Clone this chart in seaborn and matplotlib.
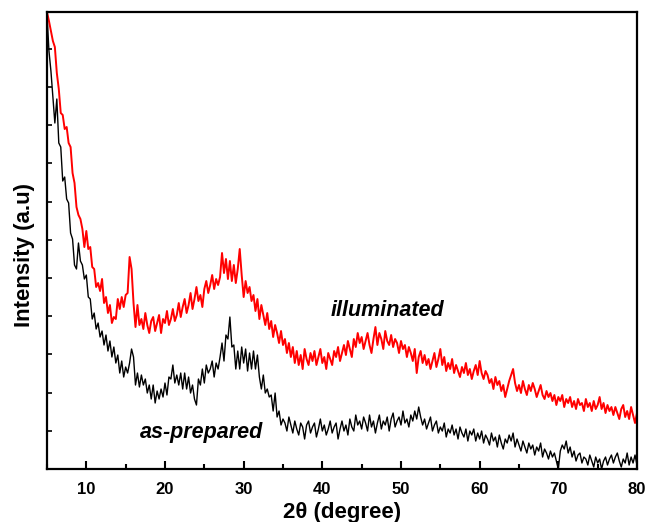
import numpy as np
import pandas as pd
import seaborn as sns
import matplotlib
matplotlib.use("Agg")
import matplotlib.pyplot as plt
from matplotlib.ticker import MultipleLocator

# 2theta sampling grid (degrees), 0.25 step
two_theta = np.arange(5.0, 80.001, 0.25)

# as-prepared (black), intensity in arbitrary units; one row = 2 degrees
as_prepared = [
    455, 418, 398, 372, 346, 370, 326, 322,
    288, 292, 270, 266, 236, 230, 204, 200,
    226, 208, 204, 190, 194, 172, 170, 150,
    156, 140, 146, 132, 138, 124, 134, 118,
    128, 112, 122, 106, 114, 96, 108, 92,
    102, 96, 106, 120, 112, 84, 96, 82,
    94, 84, 90, 76, 84, 70, 84, 66,
    78, 70, 80, 72, 86, 74, 92, 90,
    104, 86, 94, 84, 96, 80, 96, 80,
    92, 76, 84, 70, 64, 90, 84, 100,
    86, 104, 96, 100, 108, 92, 106, 100,
    112, 126, 108, 134, 130, 152, 122, 124,
    100, 118, 100, 122, 106, 120, 98, 116,
    100, 118, 100, 114, 92, 80, 94, 76,
    80, 72, 74, 58, 76, 52, 58, 44,
    50, 46, 38, 52, 44, 36, 48, 40,
    34, 46, 42, 30, 44, 48, 36, 42,
    46, 32, 40, 50, 38, 44, 34, 40,
    48, 36, 42, 46, 30, 40, 48, 38,
    44, 34, 50, 42, 38, 54, 44, 48,
    40, 52, 46, 38, 54, 42, 48, 36,
    46, 54, 40, 48, 44, 52, 38, 50,
    56, 42, 48, 52, 44, 58, 46, 50,
    42, 54, 48, 58, 50, 62, 52, 44,
    50, 40, 46, 52, 38, 44, 48, 36,
    42, 38, 46, 32, 40, 36, 44, 34,
    40, 30, 42, 36, 32, 40, 28, 38,
    34, 40, 28, 36, 30, 38, 26, 34,
    30, 24, 36, 28, 32, 22, 34, 26,
    20, 30, 26, 34, 28, 36, 22, 30,
    24, 18, 28, 22, 16, 26, 20, 24,
    14, 22, 18, 26, 12, 20, 16, 10,
    18, 12, 16, 8, 0, 18, 24, 20,
    28, 16, 22, 12, 18, 8, 14, 16,
    6, 12, 10, 4, 14, 8, 2, 12,
    6, 10, 0, 8, 12, 4, 10, 14,
    6, 12, 16, 8, 2, 10, 6, 16,
    4, 12, 6, 14, 4,
]

# illuminated (red)
illuminated = [
    457, 448, 438, 428, 422, 396, 380, 356,
    354, 340, 342, 326, 322, 296, 286, 262,
    254, 250, 240, 222, 238, 220, 222, 202,
    200, 182, 186, 178, 190, 166, 172, 156,
    164, 146, 152, 150, 170, 160, 172, 162,
    174, 176, 212, 200, 166, 142, 164, 144,
    150, 140, 156, 144, 136, 148, 152, 138,
    146, 154, 136, 150, 146, 158, 144, 150,
    160, 148, 154, 166, 152, 162, 170, 156,
    164, 176, 160, 170, 182, 168, 174, 162,
    180, 188, 176, 184, 194, 180, 190, 184,
    192, 216, 196, 210, 190, 208, 188, 204,
    186, 200, 220, 194, 172, 188, 176, 182,
    168, 174, 158, 170, 150, 164, 154, 144,
    156, 140, 148, 132, 144, 136, 126, 138,
    124, 130, 116, 126, 112, 122, 106, 118,
    104, 114, 100, 120, 110, 104, 116, 108,
    118, 104, 112, 120, 106, 112, 100, 116,
    110, 104, 118, 112, 122, 108, 116, 124,
    114, 128, 120, 112, 130, 122, 136, 126,
    132, 120, 128, 136, 124, 116, 130, 142,
    124, 136, 130, 120, 138, 128, 124, 134,
    122, 130, 126, 116, 128, 120, 124, 112,
    122, 116, 108, 120, 96, 112, 118, 106,
    114, 104, 110, 100, 108, 116, 102, 110,
    120, 104, 112, 98, 106, 100, 110, 96,
    104, 98, 92, 102, 96, 106, 94, 100,
    90, 98, 104, 94, 108, 96, 90, 98,
    94, 86, 90, 80, 92, 84, 88, 78,
    84, 72, 80, 88, 94, 100, 86, 78,
    84, 76, 88, 80, 74, 84, 78, 86,
    80, 72, 78, 84, 74, 70, 78, 72,
    76, 68, 74, 64, 72, 68, 74, 62,
    70, 66, 72, 62, 68, 60, 70, 64,
    66, 58, 70, 62, 66, 58, 68, 60,
    64, 72, 60, 66, 56, 64, 58, 62,
    54, 62, 56, 50, 60, 64, 52, 58,
    50, 62, 54, 46, 56,
]

assert len(as_prepared) == len(two_theta) == len(illuminated)

df = pd.DataFrame({
    "two_theta": np.concatenate([two_theta, two_theta]),
    "intensity": np.array(as_prepared + illuminated, dtype=float),
    "sample": ["as-prepared"] * len(two_theta) + ["illuminated"] * len(two_theta),
})

sns.set_style("ticks")
plt.rcParams["font.family"] = ["Liberation Sans", "DejaVu Sans"]
plt.rcParams["text.color"] = "black"
plt.rcParams["axes.labelcolor"] = "black"
plt.rcParams["xtick.color"] = "black"
plt.rcParams["ytick.color"] = "black"
plt.rcParams["axes.edgecolor"] = "black"

fig = plt.figure(figsize=(6.49, 5.22), dpi=100)
ax = fig.add_axes([0.0724, 0.1015, 0.9091, 0.8755])

sns.lineplot(data=df[df["sample"] == "as-prepared"], x="two_theta", y="intensity",
             color="black", linewidth=1.0, ax=ax, legend=False)
sns.lineplot(data=df[df["sample"] == "illuminated"], x="two_theta", y="intensity",
             color="#ff0000", linewidth=1.4, ax=ax, legend=False)

ax.set_xlim(5, 80)
ax.set_ylim(0, 457)
ax.xaxis.set_major_locator(MultipleLocator(10))
ax.xaxis.set_minor_locator(MultipleLocator(5))
ax.yaxis.set_major_locator(MultipleLocator(38.2))
ax.set_yticklabels([])
ax.tick_params(axis="x", which="major", direction="in", length=6, width=1.5,
               labelsize=12, pad=9)
ax.tick_params(axis="x", which="minor", direction="in", length=3.5, width=1.5)
ax.tick_params(axis="y", which="major", direction="in", length=3.5, width=1.2)
for lbl in ax.get_xticklabels():
    lbl.set_fontweight("bold")
for s in ax.spines.values():
    s.set_linewidth(1.6)
    s.set_visible(True)

ax.set_xlabel("2θ (degree)", fontsize=16, fontweight="bold")
ax.set_ylabel("Intensity (a.u)", fontsize=16, fontweight="bold")
ax.xaxis.set_label_coords(0.5, -0.072)
ax.yaxis.set_label_coords(-0.021, 0.468)

ax.text(48.3, 159, "illuminated", fontsize=15.5, fontweight="bold", style="italic",
        ha="center", va="center")
ax.text(24.7, 37, "as-prepared", fontsize=15.5, fontweight="bold", style="italic",
        ha="center", va="center")

fig.savefig("out.png", dpi=100)
